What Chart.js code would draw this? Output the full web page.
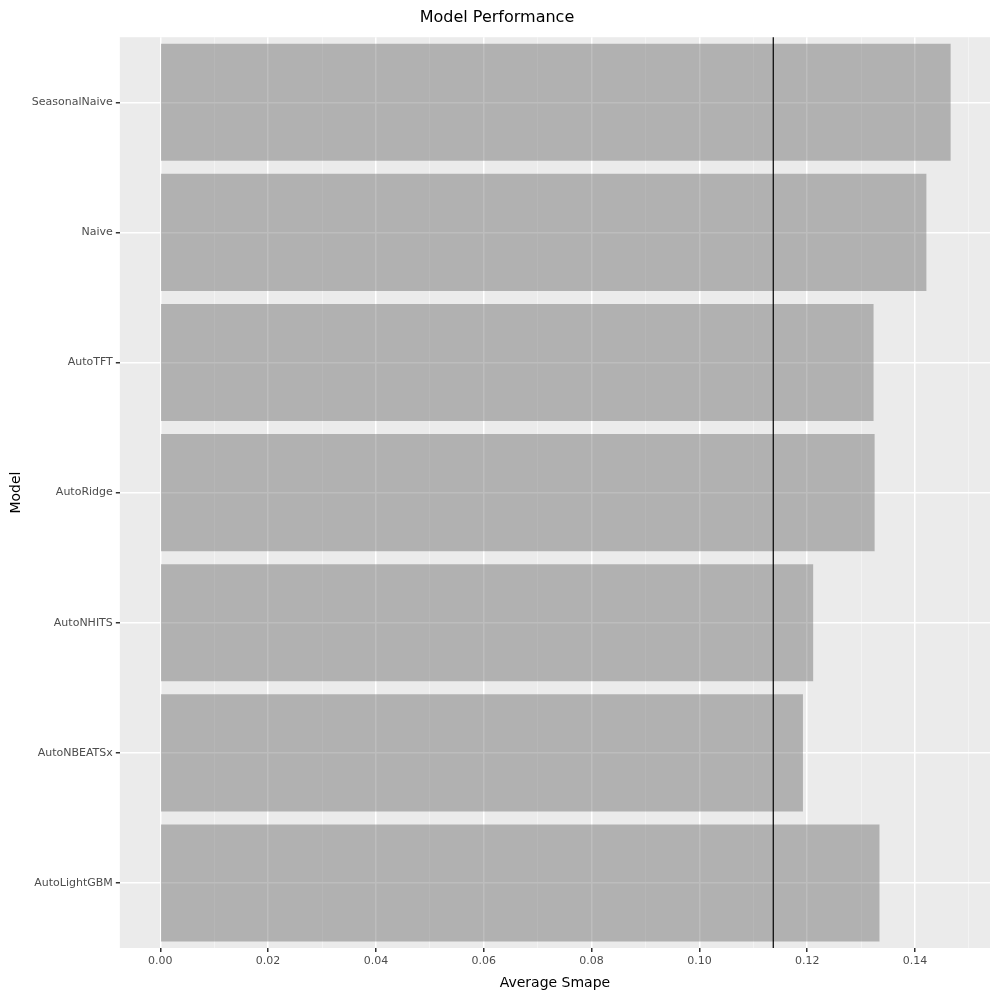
<!DOCTYPE html>
<html><head><meta charset="utf-8">
<script src="https://cdn.jsdelivr.net/npm/chart.js@4/dist/chart.umd.min.js"></script>
<style>html,body{margin:0;padding:0;background:#fff}#w{width:1000px;height:1000px}</style>
</head><body><div id="w"><canvas id="c"></canvas></div>
<script>
const models = ["SeasonalNaive","Naive","AutoTFT","AutoRidge","AutoNHITS","AutoNBEATSx","AutoLightGBM"];
const smape = [0.1466,0.1421,0.1323,0.1325,0.1211,0.1192,0.1334];
const meanLine = 0.1137;
const xTicks = [0,0.02,0.04,0.06,0.08,0.10,0.12,0.14];

const bgPlugin = {id:'bg',beforeDraw(ch){const a=ch.chartArea,c=ch.ctx;c.save();c.fillStyle='#ebebeb';c.fillRect(a.left,a.top,a.right-a.left,a.bottom-a.top);c.restore();}};
const vline = {id:'vline',afterDatasetsDraw(ch){const a=ch.chartArea,c=ch.ctx,x=ch.scales.x.getPixelForValue(meanLine);c.save();c.strokeStyle='#000';c.lineWidth=1.2;c.beginPath();c.moveTo(x,a.top);c.lineTo(x,a.bottom);c.stroke();c.restore();}};

new Chart(document.getElementById('c'),{
 type:'bar',
 data:{labels:models,datasets:[{data:smape,backgroundColor:'rgba(89,89,89,0.4)',barPercentage:0.9,categoryPercentage:1}]},
 options:{indexAxis:'y',responsive:true,maintainAspectRatio:false,animation:false,
  layout:{padding:{top:0,right:10,left:4,bottom:4}},
  plugins:{legend:{display:false},tooltip:{enabled:false},
   title:{display:true,text:'Model Performance',color:'#000',font:{size:16,family:'DejaVu Sans',weight:'normal'},padding:{top:8,bottom:10}}},
  scales:{
   x:{min:-0.0075,max:0.1539,afterBuildTicks(s){const t=[];for(let i=0;i<=15;i++)t.push({value:i/100});s.ticks=t;},
    ticks:{autoSkip:false,maxRotation:0,color:'#4d4d4d',font:{size:11,family:'DejaVu Sans'},
     callback(v){const i=Math.round(v*100);return i%2===0?(xTicks.includes(i/100)?(i/100).toFixed(2):''):'';}},
    grid:{color(ctx){const i=Math.round(ctx.tick.value*100);return i%2===0?'#ffffff':'rgba(255,255,255,0.5)';},
     lineWidth(ctx){const i=Math.round(ctx.tick.value*100);return i%2===0?1.5:0.8;},
     tickColor(ctx){const i=Math.round(ctx.tick.value*100);return (i%2===0&&i<=14)?'#333':'rgba(0,0,0,0)';},tickLength:4},
    border:{display:false},
    title:{display:true,text:'Average Smape',color:'#000',font:{size:14,family:'DejaVu Sans'}}},
   y:{ticks:{color:'#4d4d4d',font:{size:11,family:'DejaVu Sans'}},
    grid:{offset:false,color:'#ffffff',lineWidth:1.5,tickColor:'#333',tickLength:4},
    border:{display:false},
    title:{display:true,text:'Model',color:'#000',font:{size:14,family:'DejaVu Sans'}}}
  }}
 ,plugins:[bgPlugin,vline]});
</script></body></html>
